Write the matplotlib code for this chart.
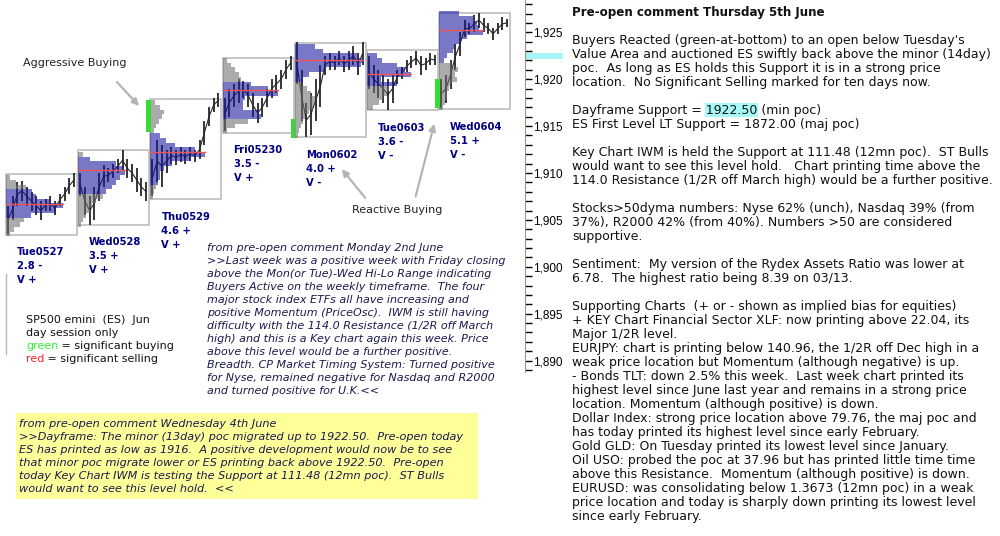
import matplotlib
matplotlib.use("Agg")
import matplotlib.pyplot as plt
from matplotlib.patches import Rectangle
from matplotlib.ticker import MultipleLocator, FuncFormatter

# Day sessions (ES Jun, day session only)
days = ["Tue0527", "Wed0528", "Thu0529", "Fri05230", "Mon0602", "Tue0603", "Wed0604"]
ratings = ["2.8 -", "3.5 +", "4.6 +", "3.5 -", "4.0 +", "3.6 -", "5.1 +"]
vol_bias = ["V +", "V +", "V +", "V +", "V -", "V -", "V -"]

day_high = [1909.9, 1912.4, 1917.9, 1922.3, 1923.9, 1923.1, 1927.1]
day_low = [1903.4, 1904.5, 1907.2, 1914.3, 1913.8, 1916.7, 1916.8]
poc = [1906.7, 1910.3, 1912.2, 1918.8, 1922.1, 1920.6, 1925.2]
va_high = [1908.0, 1911.5, 1914.0, 1919.5, 1923.5, 1922.5, 1927.0]
va_low = [1905.5, 1908.0, 1909.0, 1916.0, 1920.0, 1919.5, 1922.0]

# volume profile, 0.5 pt levels from profile_top downwards
profile_top = [1909.5, 1912.0, 1917.5, 1922.0, 1923.5, 1922.5, 1927.0]
profile = [
    [4, 10, 20, 26, 30, 45, 57, 50, 25, 18, 14, 8, 4],
    [5, 12, 38, 46, 47, 42, 38, 34, 28, 25, 18, 14, 12, 8, 5, 3],
    [5, 10, 14, 12, 9, 6, 4, 10, 16, 25, 45, 55, 40, 22, 14, 10, 10, 8, 6, 4, 3],
    [4, 8, 12, 16, 18, 28, 45, 55, 22, 20, 20, 36, 38, 25, 12, 4],
    [20, 28, 62, 68, 66, 30, 14, 8, 6, 12, 16, 20, 20, 18, 14, 10, 8, 6, 4, 3],
    [10, 15, 30, 38, 44, 14, 30, 22, 20, 16, 12, 6],
    [20, 34, 38, 40, 44, 28, 22, 16, 14, 8, 5, 12, 19, 16, 18, 12, 10, 8, 8, 6, 4],
]

# price bars (high / low) per day
bar_high = [
    [1906.5, 1907.5, 1909.0, 1909.2, 1908.5, 1908.0, 1907.5, 1907.0, 1907.2, 1907.5, 1907.0, 1907.8, 1908.5, 1909.5, 1910.0],
    [1910.0, 1908.5, 1907.5, 1908.5, 1910.0, 1910.8, 1910.5, 1911.0, 1911.5, 1912.5, 1911.5, 1911.0, 1910.5, 1909.5, 1909.0],
    [1911.5, 1913.5, 1913.0, 1912.5, 1912.8, 1912.5, 1912.8, 1912.5, 1912.8, 1912.5, 1913.5, 1915.5, 1917.0, 1918.0, 1918.5],
    [1918.0, 1919.0, 1919.5, 1920.0, 1919.8, 1919.5, 1918.5, 1917.5, 1918.0, 1919.0, 1920.0, 1920.5, 1921.0, 1922.0, 1922.5],
    [1924.0, 1921.0, 1917.5, 1918.5, 1920.0, 1921.5, 1922.5, 1922.8, 1922.5, 1923.0, 1922.5, 1923.0, 1923.5, 1922.8, 1924.0],
    [1922.5, 1921.5, 1921.0, 1920.5, 1920.0, 1920.5, 1921.0, 1921.3, 1922.0, 1922.5, 1923.0, 1922.5, 1922.3, 1922.8, 1922.6],
    [1920.0, 1920.5, 1922.0, 1923.8, 1925.0, 1926.3, 1926.0, 1926.8, 1927.1, 1926.5, 1926.0, 1925.5, 1926.0, 1926.6, 1926.4],
]
bar_low = [
    [1903.5, 1905.0, 1906.5, 1907.0, 1906.5, 1906.0, 1905.5, 1905.0, 1906.0, 1906.0, 1905.5, 1906.5, 1907.0, 1907.8, 1908.5],
    [1907.5, 1905.5, 1904.5, 1905.0, 1907.0, 1908.5, 1909.0, 1909.5, 1910.0, 1910.2, 1909.5, 1909.0, 1908.0, 1907.5, 1907.0],
    [1907.5, 1909.0, 1908.5, 1910.0, 1911.0, 1910.8, 1911.2, 1911.0, 1911.3, 1911.2, 1911.5, 1913.0, 1915.0, 1916.5, 1917.0],
    [1914.5, 1916.0, 1917.0, 1917.5, 1918.0, 1917.0, 1916.0, 1915.3, 1916.0, 1917.0, 1918.0, 1918.5, 1919.0, 1920.0, 1921.0],
    [1919.5, 1915.5, 1913.8, 1914.0, 1915.5, 1917.0, 1920.5, 1921.0, 1921.0, 1921.5, 1920.8, 1921.0, 1921.5, 1920.5, 1921.5],
    [1919.0, 1918.5, 1918.0, 1917.5, 1916.7, 1917.5, 1919.5, 1920.0, 1920.8, 1921.2, 1921.5, 1920.5, 1921.0, 1921.5, 1921.5],
    [1916.9, 1917.5, 1919.0, 1921.0, 1922.5, 1924.5, 1924.8, 1925.0, 1925.5, 1925.0, 1924.8, 1924.2, 1924.8, 1925.2, 1925.6],
]

# significant buying (green) marks: day index -> price range
sig_buy_day = [2, 4, 6]
sig_buy_lo = [1914.4, 1913.7, 1916.9]
sig_buy_hi = [1917.8, 1915.8, 1920.0]

dayframe_support = 1922.5

right_lines = [
    "Pre-open comment Thursday 5th June",
    "",
    "Buyers Reacted (green-at-bottom) to an open below Tuesday's",
    "Value Area and auctioned ES swiftly back above the minor (14day)",
    "poc.  As long as ES holds this Support it is in a strong price",
    "location.  No Significant Selling marked for ten days now.",
    "",
    "Dayframe Support = 1922.50 (min poc)",
    "ES First Level LT Support = 1872.00 (maj poc)",
    "",
    "Key Chart IWM is held the Support at 111.48 (12mn poc).  ST Bulls",
    "would want to see this level hold.   Chart printing time above the",
    "114.0 Resistance (1/2R off March high) would be a further positive.",
    "",
    "Stocks>50dyma numbers: Nyse 62% (unch), Nasdaq 39% (from",
    "37%), R2000 42% (from 40%). Numbers >50 are considered",
    "supportive.",
    "",
    "Sentiment:  My version of the Rydex Assets Ratio was lower at",
    "6.78.  The highest ratio being 8.39 on 03/13.",
    "",
    "Supporting Charts  (+ or - shown as implied bias for equities)",
    "+ KEY Chart Financial Sector XLF: now printing above 22.04, its",
    "Major 1/2R level.",
    "EURJPY: chart is printing below 140.96, the 1/2R off Dec high in a",
    "weak price location but Momentum (although negative) is up.",
    "- Bonds TLT: down 2.5% this week.  Last week chart printed its",
    "highest level since June last year and remains in a strong price",
    "location. Momentum (although positive) is down.",
    "Dollar Index: strong price location above 79.76, the maj poc and",
    "has today printed its highest level since early February.",
    "Gold GLD: On Tuesday printed its lowest level since January.",
    "Oil USO: probed the poc at 37.96 but has printed little time time",
    "above this Resistance.  Momentum (although positive) is down.",
    "EURUSD: was consolidating below 1.3673 (12mn poc) in a weak",
    "price location and today is sharply down printing its lowest level",
    "since early February.",
]

monday_lines = [
    "from pre-open comment Monday 2nd June",
    ">>Last week was a positive week with Friday closing",
    "above the Mon(or Tue)-Wed Hi-Lo Range indicating",
    "Buyers Active on the weekly timeframe.  The four",
    "major stock index ETFs all have increasing and",
    "positive Momentum (PriceOsc).  IWM is still having",
    "difficulty with the 114.0 Resistance (1/2R off March",
    "high) and this is a Key chart again this week. Price",
    "above this level would be a further positive.",
    "Breadth. CP Market Timing System: Turned positive",
    "for Nyse, remained negative for Nasdaq and R2000",
    "and turned positive for U.K.<<",
]

wednesday_lines = [
    "from pre-open comment Wednesday 4th June",
    ">>Dayframe: The minor (13day) poc migrated up to 1922.50.  Pre-open today",
    "ES has printed as low as 1916.  A positive development would now be to see",
    "that minor poc migrate lower or ES printing back above 1922.50.  Pre-open",
    "today Key Chart IWM is testing the Support at 111.48 (12mn poc).  ST Bulls",
    "would want to see this level hold.  <<",
]

fig = plt.figure(figsize=(10, 5.36), dpi=100)
W, H = 1000, 536
ax = fig.add_axes([0, 1 - 372 / H, 525 / W, 372 / H])
ax.set_xlim(0, 525)
ax.set_ylim(1925 - (372 - 32.3) / 9.38, 1925 + 32.3 / 9.38)

DAY_W = 72.2
for i in range(len(days)):
    x0 = 6 + i * DAY_W
    # box
    ax.add_patch(Rectangle((x0, day_low[i]), 71, day_high[i] - day_low[i],
                           fill=False, ec="#bdbdbd", lw=1.2, zorder=1))
    # price bars
    n = len(bar_high[i])
    xs = [x0 + 2 + j * 66 / (n - 1) for j in range(n)]
    ax.vlines(xs, bar_low[i], bar_high[i], color="#262626", lw=1.3, zorder=2)
    mids = [(h + l) / 2 for h, l in zip(bar_high[i], bar_low[i])]
    ax.plot(xs, mids, color="#262626", lw=0.8, zorder=2)
    # profile
    levels = [profile_top[i] - 0.5 * k for k in range(len(profile[i]))]
    cols = ["#17179d" if va_low[i] <= lv <= va_high[i] else "#6e6e6e" for lv in levels]
    ax.barh(levels, profile[i], height=0.5, left=x0, color=cols, alpha=0.58,
            lw=0, zorder=3)
    # poc
    ax.plot([x0, x0 + max(profile[i])], [poc[i], poc[i]], color="#ee5555",
            lw=1.0, zorder=4)
    # labels
    for k, s in enumerate([days[i], ratings[i], vol_bias[i]]):
        ax.annotate(s, xy=(x0 + 11, day_low[i]), xytext=(0, -12.6 - 10.1 * k),
                    textcoords="offset points", va="center", ha="left",
                    fontsize=7.2, fontweight="bold", color="#000080",
                    family="DejaVu Sans", annotation_clip=False)

for d, lo, hi in zip(sig_buy_day, sig_buy_lo, sig_buy_hi):
    x0 = 6 + d * DAY_W
    ax.add_patch(Rectangle((x0 - 4, lo), 4.5, hi - lo, color="#33dd33", lw=0, zorder=5))

ax.plot([525, 563], [dayframe_support, dayframe_support], color="#a8f4f8",
        lw=4.3, solid_capstyle="butt", clip_on=False, zorder=0)

for s in ["left", "top", "bottom"]:
    ax.spines[s].set_visible(False)
ax.spines["right"].set_color("#a09480")
ax.set_xticks([])
ax.yaxis.tick_right()
ax.yaxis.set_major_locator(MultipleLocator(5))
ax.yaxis.set_minor_locator(MultipleLocator(1))
ax.yaxis.set_major_formatter(FuncFormatter(lambda v, p: f"{v:,.0f}"))
ax.tick_params(axis="y", which="both", length=5, width=1, color="black", pad=1,
               labelsize=8.5)
for t in ax.get_yticklabels():
    t.set_family("Liberation Sans")

# overlay in pixel coords for free text
ov = fig.add_axes([0, 0, 1, 1])
ov.set_xlim(0, W)
ov.set_ylim(H, 0)
ov.axis("off")
ov.patch.set_visible(False)

txt = dict(family="DejaVu Sans", va="center", ha="left")

ov.text(23, 63, "Aggressive Buying", fontsize=8, color="#222222", **txt)
ov.annotate("", xy=(141, 108), xytext=(115, 80),
            arrowprops=dict(arrowstyle="-|>", color="#b4b4b4", lw=1.6, mutation_scale=10))
ov.text(352, 210, "Reactive Buying", fontsize=8, color="#222222", **txt)
ov.annotate("", xy=(340, 167), xytext=(367, 200),
            arrowprops=dict(arrowstyle="-|>", color="#b4b4b4", lw=1.6, mutation_scale=10))
ov.annotate("", xy=(435, 121), xytext=(415, 199),
            arrowprops=dict(arrowstyle="-|>", color="#b4b4b4", lw=1.6, mutation_scale=10))
ov.plot([6, 6], [274, 354], color="#b8b8b8", lw=1)

renderer = fig.canvas.get_renderer()

# legend text
legend_lines = ["SP500 emini  (ES)  Jun", "day session only"]
for k, s in enumerate(legend_lines):
    ov.text(26, 320 + 13.1 * k, s, fontsize=8, color="#111111", **txt)
for k, (word, col, rest) in enumerate([("green", "#33ee33", " = significant buying"),
                                        ("red", "#ff2222", " = significant selling")]):
    y = 320 + 13.1 * (k + 2)
    t = ov.text(26, y, word, fontsize=8, color=col, **txt)
    w = t.get_window_extent(renderer).width
    ov.text(26 + w, y, rest, fontsize=8, color="#111111", **txt)

for k, s in enumerate(monday_lines):
    ov.text(207, 248.3 + 13 * k, s, fontsize=8, style="italic", color="#1a1a4e", **txt)

ov.add_patch(Rectangle((16, 413), 462, 86, color="#ffff99", lw=0))
for k, s in enumerate(wednesday_lines):
    ov.text(19, 424 + 13 * k, s, fontsize=8.15, style="italic", color="#1a1a4e", **txt)

for k, s in enumerate(right_lines):
    if not s:
        continue
    y = 12.3 + 14 * k
    t = ov.text(572, y, s, fontsize=8.6 if k == 0 else 9.0, color="#111111",
                fontweight="bold" if k == 0 else "normal", **txt)
    if s.startswith("Dayframe"):
        tmp = ov.text(0, 0, "1922.50", fontsize=9.0, **txt)
        wn = tmp.get_window_extent(renderer).width
        tmp.remove()
        pre = ov.text(0, 0, s.split(" (")[0], fontsize=9.0, **txt)
        wp = pre.get_window_extent(renderer).width
        pre.remove()
        ov.add_patch(Rectangle((572 + wp - wn - 1, y - 7), wn + 2, 14,
                               color="#a8f8f8", lw=0, zorder=0))

fig.savefig("out.png", dpi=100)
